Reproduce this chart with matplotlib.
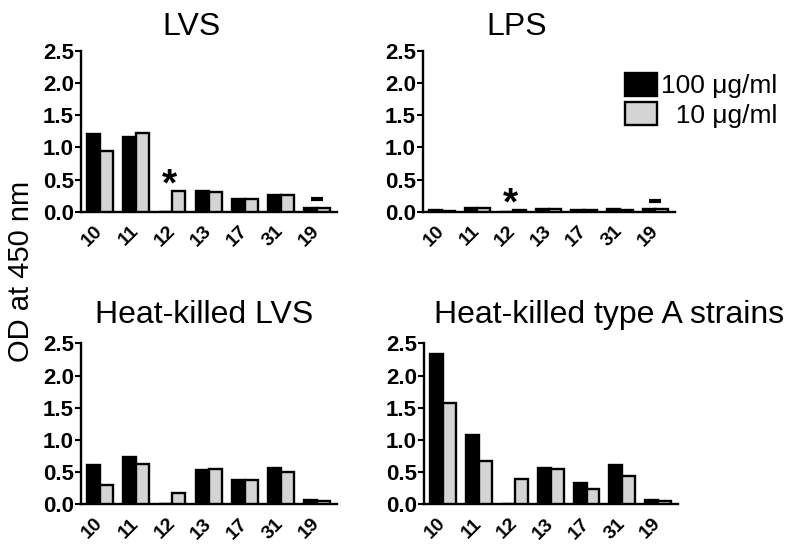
import matplotlib
matplotlib.use('Agg')
import matplotlib.pyplot as plt
import numpy as np

plt.rcParams['font.family'] = ['Liberation Sans', 'DejaVu Sans']

# ---- data ----
strains = ['10', '11', '12', '13', '17', '31', '19']
lvs_100 = [1.21, 1.16, 0.0, 0.32, 0.20, 0.26, 0.06]
lvs_10 = [0.95, 1.22, 0.32, 0.30, 0.19, 0.26, 0.05]
lps_100 = [0.02, 0.06, 0.0, 0.04, 0.03, 0.04, 0.04]
lps_10 = [0.01, 0.05, 0.03, 0.04, 0.03, 0.03, 0.04]
hk_lvs_100 = [0.61, 0.73, 0.0, 0.53, 0.37, 0.56, 0.06]
hk_lvs_10 = [0.30, 0.62, 0.175, 0.55, 0.37, 0.50, 0.05]
hk_a_100 = [2.34, 1.08, 0.0, 0.57, 0.33, 0.61, 0.07]
hk_a_10 = [1.57, 0.67, 0.39, 0.55, 0.24, 0.44, 0.05]
titles = ['LVS', 'LPS', 'Heat-killed LVS', 'Heat-killed type A strains']
yticks = [0.0, 0.5, 1.0, 1.5, 2.0, 2.5]
legend_labels = ['100 \u03bcg/ml', '  10 \u03bcg/ml']
ylabel = 'OD at 450 nm'
# annotations (asterisk above strain 12, dash above strain 19) for top panels
star_y = [0.25, -0.04]
dash_y = [0.20, 0.16]

series = [(lvs_100, lvs_10), (lps_100, lps_10), (hk_lvs_100, hk_lvs_10), (hk_a_100, hk_a_10)]

W, H = 800, 546
fig = plt.figure(figsize=(W / 100, H / 100), dpi=100)

rects_px = [  # left, x-right, y-bottom(px from top), y-top(px from top)
    (81, 337, 211.7, 51),
    (423, 675, 211.7, 51),
    (81, 337, 504.3, 343.3),
    (424, 678, 504.3, 343.3),
]
title_x = [0.43, 0.37, 0.48, 0.73]
title_pad = [11.5, 11.5, 14.5, 14.5]

black = '#000000'
gray = '#d4d4d4'
bw = 0.36
x = np.arange(len(strains))

axes = []
for i, ((l, r, b, t), (v100, v10)) in enumerate(zip(rects_px, series)):
    ax = fig.add_axes([l / W, 1 - b / H, (r - l) / W, (b - t) / H])
    axes.append(ax)
    b1 = ax.bar(x - bw / 2, v100, width=bw, color=black, edgecolor='black', linewidth=1.7, zorder=3)
    b2 = ax.bar(x + bw / 2, v10, width=bw, color=gray, edgecolor='black', linewidth=1.7, zorder=3)
    ax.set_ylim(0, 2.5)
    ax.set_xlim(-0.53, 6.55)
    ax.set_yticks(yticks)
    ax.set_yticklabels([f'{v:.1f}' for v in yticks], fontsize=16, fontweight='bold')
    ax.set_xticks(x)
    ax.set_xticklabels(strains, fontsize=14, fontweight='bold', rotation=45,
                       ha='right', va='center', rotation_mode='anchor')
    ax.tick_params(axis='x', length=0, pad=12)
    ax.tick_params(axis='y', length=4, width=1.5, direction='out', pad=1)
    for s in ['top', 'right']:
        ax.spines[s].set_visible(False)
    for s in ['left', 'bottom']:
        ax.spines[s].set_linewidth(1.7)
    ax.set_title(titles[i], fontsize=23, x=title_x[i], pad=title_pad[i])
    if i < 2:
        ax.text(x[2] - 0.08, star_y[i], '*', fontsize=28, fontweight='bold',
                ha='center', va='baseline')
        ax.plot([x[6]], [dash_y[i]], marker='_', markersize=9, markeredgewidth=3, color='black')
    if i == 1:
        leg = ax.legend([b1, b2], legend_labels, loc='upper left',
                        bbox_to_anchor=(625 / W, 1 - 73 / H), bbox_transform=fig.transFigure,
                        frameon=False, fontsize=19, handlelength=1.2, handleheight=0.95,
                        handletextpad=0.15, labelspacing=0.15, borderpad=0, borderaxespad=0)

fig.text(21 / W, 1 - 271 / H, ylabel, rotation=90, fontsize=21, ha='center', va='center')

fig.savefig('out.png', dpi=100)
